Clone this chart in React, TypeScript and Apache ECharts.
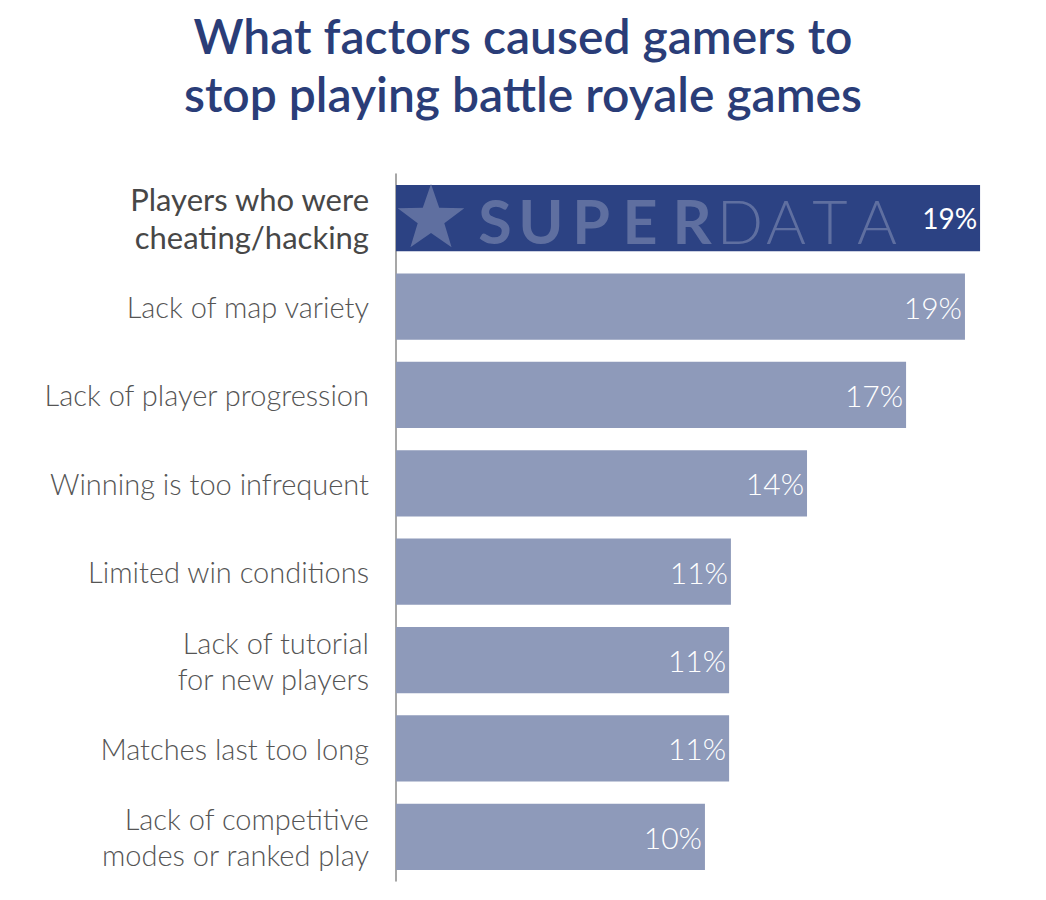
import React, { useEffect, useRef } from "react";
import * as echarts from "echarts";

const categories = [
  "Players who were\ncheating/hacking",
  "Lack of map variety",
  "Lack of player progression",
  "Winning is too infrequent",
  "Limited win conditions",
  "Lack of tutorial\nfor new players",
  "Matches last too long",
  "Lack of competitive\nmodes or ranked play",
];
const values = [19.34, 18.84, 16.89, 13.61, 11.09, 11.03, 11.03, 10.23];
const valueLabels = ["19%", "19%", "17%", "14%", "11%", "11%", "11%", "10%"];
const titleLines = ["What factors caused gamers to", "stop playing battle royale games"];
const watermarkBold = ["S", "U", "P", "E", "R"];
const watermarkLight = ["D", "A", "T", "A"];

const DARK = "#2c4283";
const LIGHT = "#8e9aba";
const MARK = "#5f6fa0";

function starPoints(cx: number, cy: number, ro: number, ri: number) {
  const pts: number[][] = [];
  for (let i = 0; i < 10; i++) {
    const r = i % 2 === 0 ? ro : ri;
    const a = -Math.PI / 2 + (i * Math.PI) / 5;
    pts.push([cx + r * Math.cos(a), cy + r * Math.sin(a)]);
  }
  return pts;
}

export default function App() {
  const ref = useRef<HTMLDivElement>(null);
  useEffect(() => {
    document.body.style.margin = "0";
    if (!ref.current) return;
    const chart = echarts.init(ref.current, undefined, { renderer: "svg" });
    const boldCenters = [495, 541, 591, 640, 692];
    const lightCenters = [740, 786, 830, 877];
    const markTexts: any[] = [];
    watermarkBold.forEach((ch, i) =>
      markTexts.push({
        type: "text",
        x: boldCenters[i],
        y: 220,
        z: 10,
        style: {
          text: ch,
          fill: MARK,
          font: "bold 61px Lato",
          textAlign: "center",
          textVerticalAlign: "middle",
        },
      })
    );
    watermarkLight.forEach((ch, i) =>
      markTexts.push({
        type: "text",
        x: lightCenters[i],
        y: 220,
        z: 10,
        style: {
          text: ch,
          fill: MARK,
          font: "300 61px Lato",
          textAlign: "center",
          textVerticalAlign: "middle",
        },
      })
    );
    chart.setOption({
      animation: false,
      backgroundColor: "#ffffff",
      title: {
        text: titleLines.join("\n"),
        left: "center",
        top: 1,
        textStyle: {
          fontFamily: "Lato",
          fontWeight: 600,
          fontSize: 48,
          lineHeight: 58,
          color: "#2a3d78",
        },
      },
      grid: { left: 396, top: 174, width: 604, height: 707 },
      xAxis: {
        type: "value",
        min: 0,
        max: 20,
        show: false,
      },
      yAxis: {
        type: "category",
        inverse: true,
        data: categories,
        axisLine: { show: true, lineStyle: { color: "#8a8a8a", width: 1.5 } },
        axisTick: { show: false },
        axisLabel: {
          margin: 27,
          formatter: (v: string, idx: number) => {
            const key = idx === 0 ? "a" : "b";
            return v
              .split("\n")
              .map((l) => `{${key}|${l}}`)
              .join("\n");
          },
          rich: {
            a: {
              fontFamily: "Lato",
              fontSize: 31,
              fontWeight: 400,
              color: "#474747",
              lineHeight: 38,
              align: "right",
            },
            b: {
              fontFamily: "Lato",
              fontSize: 29,
              fontWeight: 300,
              color: "#555555",
              lineHeight: 36,
              align: "right",
            },
          },
        },
      },
      series: [
        {
          type: "bar",
          barCategoryGap: "25%",
          data: values.map((v, i) => ({
            value: v,
            itemStyle: { color: i === 0 ? DARK : LIGHT },
            label: {
              fontWeight: i === 0 ? 400 : 300,
              fontSize: i === 0 ? 28 : 30,
            },
          })),
          label: {
            show: true,
            position: "insideRight",
            distance: 3,
            color: "#ffffff",
            fontFamily: "Lato",
            fontSize: 30,
            formatter: (p: any) => valueLabels[p.dataIndex],
          },
        },
      ],
      graphic: [
        {
          type: "polygon",
          z: 10,
          shape: { points: starPoints(431, 219, 35, 14) },
          style: { fill: MARK },
        },
        ...markTexts,
      ],
    });
    return () => chart.dispose();
  }, []);
  return <div ref={ref} style={{ width: 1046, height: 900 }} />;
}
